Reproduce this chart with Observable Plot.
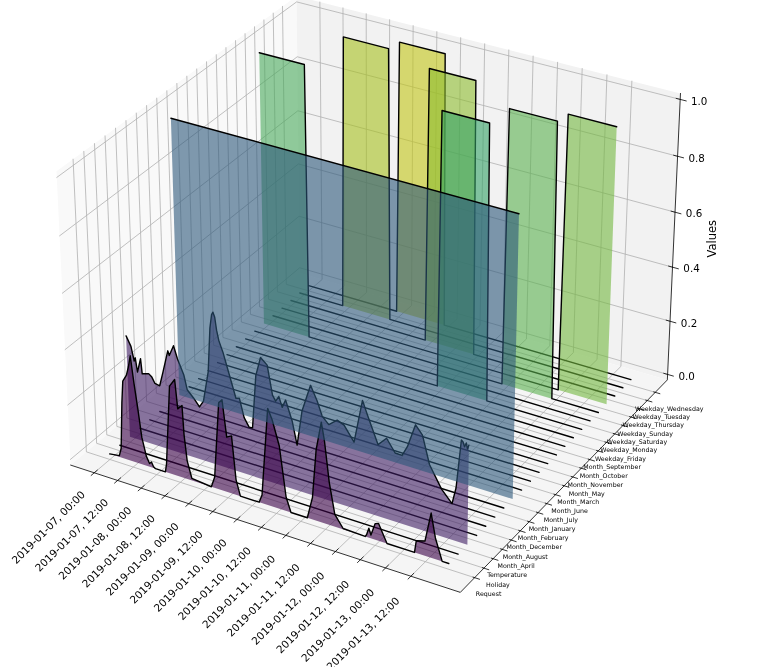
<!DOCTYPE html>
<html>
<head>
<meta charset="utf-8">
<script src="https://cdn.jsdelivr.net/npm/d3@7"></script>
<script src="https://cdn.jsdelivr.net/npm/@observablehq/plot@0.6"></script>
<style>
  body { margin: 0; background: white; }
  svg { will-change: transform; }
</style>
</head>
<body>
<div id="chart"></div>
<script>
const seriesNames = ['Request', 'Holiday', 'Temperature', 'Month_April', 'Month_August', 'Month_December',
  'Month_February', 'Month_January', 'Month_July', 'Month_June', 'Month_March', 'Month_May', 'Month_November',
  'Month_October', 'Month_September', 'Weekday_Friday', 'Weekday_Monday', 'Weekday_Saturday', 'Weekday_Sunday',
  'Weekday_Thursday', 'Weekday_Tuesday', 'Weekday_Wednesday']

const xTickHours = [0, 12, 24, 36, 48, 60, 72, 84, 96, 108, 120, 132, 144, 156]
const xTickLabels = ['2019-01-07, 00:00', '2019-01-07, 12:00', '2019-01-08, 00:00', '2019-01-08, 12:00',
  '2019-01-09, 00:00', '2019-01-09, 12:00', '2019-01-10, 00:00', '2019-01-10, 12:00', '2019-01-11, 00:00',
  '2019-01-11, 12:00', '2019-01-12, 00:00', '2019-01-12, 12:00', '2019-01-13, 00:00', '2019-01-13, 12:00']
const zTicks = [0, 0.2, 0.4, 0.6, 0.8, 1]

// leidos a ojo del grafico, horas desde 2019-01-07 00:00
const requestHours = [0, 5, 6.1, 7.4, 8.3, 10.3, 11.5, 12.6, 14, 15.5, 17, 19, 20.5, 21.5, 22.5, 23.5, 28.5,
  29.2, 32, 34.7, 35.8, 38, 38.6, 39.8, 41.9, 51.7, 53.5, 56.4, 58.1, 60, 62.4, 64.2, 66.2, 75.5, 77, 80.5,
  82.6, 85.9, 88.9, 91.2, 99.2, 101.8, 103.8, 106.4, 107.8, 110, 112.6, 116.6, 127.2, 127.9, 129, 130, 132,
  133.6, 137.7, 150.8, 151.6, 155.7, 158.5, 160.6, 163.9, 167]
const requestValues = [0, 0.005, 0.035, 0.205, 0.285, 0.311, 0.345, 0.386, 0.29, 0.2, 0.1, 0.035, 0.012, 0.02,
  0.005, 0, 0, 0.03, 0.32, 0.35, 0.247, 0.264, 0.16, 0.067, 0.008, 0, 0.04, 0.315, 0.33, 0.2, 0.21, 0.055, 0, 0,
  0.03, 0.35, 0.314, 0.228, 0.05, 0, 0, 0.08, 0.256, 0.36, 0.3, 0.155, 0.045, 0.003, 0, 0.008, 0.034, 0.012,
  0.058, 0.063, 0, 0, 0.044, 0.053, 0.16, 0.076, 0, 0]

const temperatureHours = [0, 2.3, 3.7, 4.3, 5.2, 7, 7.6, 10.9, 12.5, 14, 16.4, 18.3, 21.1, 21.8, 24.1, 25.9, 28.9,
  30.4, 33.5, 36.4, 38.5, 41.3, 42.7, 43.7, 44.4, 45.2, 46, 47, 48.9, 51.9, 54.9, 56.6, 58.8, 61.2, 62.9, 65, 67.5,
  70.7, 73.1, 74.6, 76.2, 77.8, 79.5, 82.6, 84.9, 87.5, 91.8, 94.9, 97.3, 100.5, 104.6, 107.9, 112.7, 116.8, 119.2,
  124.2, 128.3, 132.4, 135.7, 138.2, 142, 145.3, 148.7, 154.5, 159.5, 161.3, 163.5, 164.3, 165, 165.8, 166.4, 167]
const temperatureValues = [0.37, 0.337, 0.287, 0.3, 0.25, 0.303, 0.249, 0.257, 0.248, 0.228, 0.225, 0.279, 0.362,
  0.347, 0.387, 0.344, 0.292, 0.242, 0.219, 0.193, 0.219, 0.332, 0.49, 0.54, 0.55, 0.535, 0.49, 0.455, 0.418, 0.342,
  0.266, 0.27, 0.205, 0.176, 0.177, 0.37, 0.44, 0.42, 0.318, 0.3, 0.32, 0.285, 0.315, 0.247, 0.165, 0.294, 0.395,
  0.347, 0.298, 0.275, 0.3, 0.29, 0.24, 0.398, 0.351, 0.258, 0.29, 0.247, 0.246, 0.283, 0.369, 0.34, 0.244, 0.17,
  0.13, 0.19, 0.365, 0.36, 0.345, 0.36, 0.34, 0.355]

const flatHours = [0, 167]
const flatValues = [0, 0]
const januaryValues = [1, 1]
const mondayHours = [0, 23, 24, 167]
const mondayValues = [1, 1, 0, 0]
const tuesdayHours = [0, 23, 24, 47, 48, 167]
const wednesdayHours = [0, 47, 48, 71, 72, 167]
const thursdayHours = [0, 71, 72, 95, 96, 167]
const fridayHours = [0, 95, 96, 119, 120, 167]
const saturdayHours = [0, 119, 120, 143, 144, 167]
const sundayHours = [0, 143, 144, 167]
const dayValues = [0, 0, 1, 1, 0, 0]
const sundayValues = [0, 0, 1, 1]

const seriesData = seriesNames.map(name => {
  if (name === 'Request') return [requestHours, requestValues]
  if (name === 'Temperature') return [temperatureHours, temperatureValues]
  if (name === 'Month_January') return [flatHours, januaryValues]
  if (name === 'Weekday_Monday') return [mondayHours, mondayValues]
  if (name === 'Weekday_Tuesday') return [tuesdayHours, dayValues]
  if (name === 'Weekday_Wednesday') return [wednesdayHours, dayValues]
  if (name === 'Weekday_Thursday') return [thursdayHours, dayValues]
  if (name === 'Weekday_Friday') return [fridayHours, dayValues]
  if (name === 'Weekday_Saturday') return [saturdayHours, dayValues]
  if (name === 'Weekday_Sunday') return [sundayHours, sundayValues]
  return [flatHours, flatValues]
})

// camara de matplotlib: elev 30, azim -60, dist 10, caja 4:4:3
const boxX = 1.1905, boxY = 1.1905, boxZ = 0.8929
const camera = (fx, fy, fz) => {
  const qx = (fx - 0.5) * boxX, qy = (fy - 0.5) * boxY, qz = (fz - 0.5) * boxZ
  const depth = 10 - (0.433 * qx - 0.75 * qy + 0.5 * qz)
  const sx = (0.866 * qx + 0.5 * qy) / depth
  const sy = (-0.25 * qx + 0.433 * qy + 0.866 * qz) / depth
  return [374 + 3750 * sx, 279.4 - 3750 * sy]
}
const fracX = t => (t / 167 + 0.05 + 1.1 / 48) / (1.1 * 25 / 24)
const fracY = i => (i / 21 + 0.05 + 1.1 / 48) / (1.1 * 25 / 24)
const fracZ = z => (z + 1 / 48) / (25 / 24)

const px = d => d[0]
const py = d => d[1]
const path3d = (pts, opts) => Plot.line(pts.map(p => camera(...p)), {x: px, y: py, ...opts})
const grid = {stroke: '#b0b0b0', strokeWidth: 0.8}
const axisLine = {stroke: 'black', strokeWidth: 0.8}
const font = 'DejaVu Sans'

const marks = [
  // paneles
  path3d([[0, 0, 0], [0, 1, 0], [0, 1, 1], [0, 0, 1]], {fill: '#f9f9f9', stroke: 'none'}),
  path3d([[0, 1, 0], [1, 1, 0], [1, 1, 1], [0, 1, 1]], {fill: '#f2f2f2', stroke: 'none'}),
  path3d([[0, 0, 0], [1, 0, 0], [1, 1, 0], [0, 1, 0]], {fill: '#f5f5f5', stroke: 'none'})
]

// rejilla
xTickHours.forEach(t => marks.push(path3d([[fracX(t), 0, 0], [fracX(t), 1, 0], [fracX(t), 1, 1]], grid)))
seriesNames.forEach((n, i) => marks.push(path3d([[1, fracY(i), 0], [0, fracY(i), 0], [0, fracY(i), 1]], grid)))
zTicks.forEach(z => marks.push(path3d([[0, 0, fracZ(z)], [0, 1, fracZ(z)], [1, 1, fracZ(z)]], grid)))

// ejes y marcas
marks.push(path3d([[0, 0, 0], [1, 0, 0], [1, 1, 0], [1, 1, 1]], axisLine))
xTickHours.forEach(t => marks.push(path3d([[fracX(t), -0.0125, 0], [fracX(t), 0.0125, 0]], axisLine)))
seriesNames.forEach((n, i) => marks.push(path3d([[0.996, fracY(i), 0], [1.012, fracY(i), 0]], axisLine)))
zTicks.forEach(z => marks.push(path3d([[0.99, 1, fracZ(z)], [1.015, 1, fracZ(z)]], axisLine)))

// orden de dibujo: lo bajo de atras hacia adelante, luego los dias, enero encima de todo
const indices = seriesNames.map((n, i) => i).reverse()
const isDay = i => seriesNames[i].startsWith('Weekday')
const drawOrder = [
  ...indices.filter(i => !isDay(i) && seriesNames[i] !== 'Month_January'),
  ...indices.filter(isDay),
  seriesNames.indexOf('Month_January')
]
drawOrder.forEach(i => {
  const [hours, values] = seriesData[i]
  const curve = hours.map((t, k) => camera(fracX(t), fracY(i), fracZ(values[k])))
  const base = [camera(fracX(hours[hours.length - 1]), fracY(i), fracZ(0)), camera(fracX(hours[0]), fracY(i), fracZ(0))]
  const c = d3.rgb(d3.interpolateViridis(i / 22))
  const fill = d3.rgb(c.r * 0.86, c.g * 0.86, c.b * 0.86).formatHex()
  marks.push(Plot.line(curve.concat(base), {x: px, y: py, fill, fillOpacity: 0.6, stroke: 'none'}))
  marks.push(Plot.line(curve, {x: px, y: py, stroke: 'black', strokeWidth: 1.4}))
})

// textos
const xLabelPos = xTickHours.map((t, k) => ({p: camera(fracX(t), 0, 0), label: xTickLabels[k], t}))
marks.push(Plot.text(xLabelPos, {x: d => d.p[0] - 11 - d.t / 78, y: d => d.p[1] + 20 + d.t / 52, text: 'label', rotate: -45,
  textAnchor: 'end', lineAnchor: 'middle', fontSize: 10.5, fontFamily: font, fill: 'black'}))
const yLabelPos = seriesNames.map((n, i) => ({p: camera(1, fracY(i), 0), label: n}))
marks.push(Plot.text(yLabelPos, {x: d => d.p[0] + 14, y: d => d.p[1] + 16.5, text: 'label',
  textAnchor: 'middle', lineAnchor: 'middle', fontSize: 6.3, fontFamily: font, fill: 'black'}))
const zLabelPos = zTicks.map(z => ({p: camera(1, 1, fracZ(z)), label: z.toFixed(1)}))
marks.push(Plot.text(zLabelPos, {x: d => d.p[0] + 19, y: d => d.p[1] + 2, text: 'label',
  textAnchor: 'middle', lineAnchor: 'middle', fontSize: 10.3, fontFamily: font, fill: 'black'}))
const valuesPos = [camera(1, 1, fracZ(0.5))]
marks.push(Plot.text(valuesPos, {x: d => d[0] + 39, y: d => d[1] - 1, text: () => 'Values', rotate: -90,
  textAnchor: 'middle', lineAnchor: 'middle', fontSize: 11.5, fontFamily: font, fill: 'black'}))

const chart = Plot.plot({
  width: 775,
  height: 667,
  margin: 0,
  x: {domain: [0, 775], range: [0, 775], axis: null},
  y: {domain: [0, 667], range: [0, 667], axis: null},
  style: {background: 'white'},
  marks
})

d3.select('#chart').append(() => chart)
</script>
</body>
</html>
